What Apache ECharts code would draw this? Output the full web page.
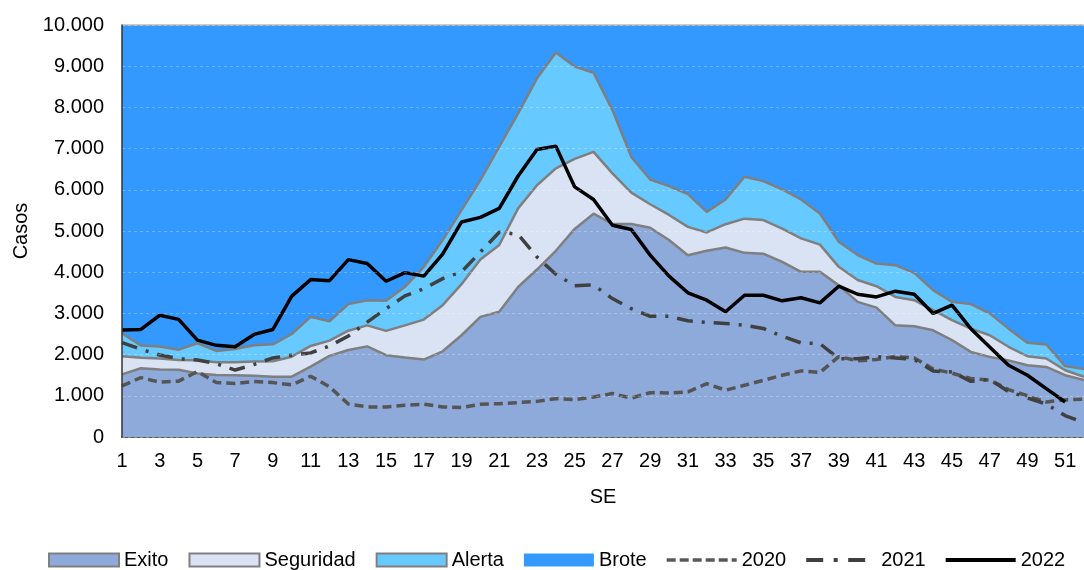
<!DOCTYPE html>
<html>
<head>
<meta charset="utf-8">
<script src="https://cdn.jsdelivr.net/npm/echarts@6/dist/echarts.min.js"></script>
<style>
  html, body { margin: 0; padding: 0; background: #fff; }
  #chart { width: 1084px; height: 570px; }
</style>
</head>
<body>
<div id="chart"></div>
<script>
// semanas epidemiologicas 1..52
const semanas = []
for (let i = 1; i <= 52; i++) semanas.push(String(i))

const yTicks = [0, 1000, 2000, 3000, 4000, 5000, 6000, 7000, 8000, 9000, 10000]

// limites superiores de cada zona del canal endemico
const exito = [1520, 1670, 1640, 1630, 1540, 1505, 1500, 1485, 1465, 1465, 1710, 1970, 2110,
  2200, 1985, 1930, 1880, 2080, 2470, 2915, 3040, 3640, 4065, 4520, 5050, 5420,
  5170, 5170, 5080, 4780, 4410, 4520, 4600, 4470, 4450, 4250, 4010, 4010, 3680,
  3280, 3140, 2710, 2690, 2590, 2350, 2065, 1945, 1860, 1740, 1700, 1500, 1380]
const seguridad = [1960, 1925, 1905, 1870, 1860, 1815, 1815, 1835, 1840, 1950, 2210, 2340, 2580,
  2710, 2575, 2710, 2850, 3200, 3710, 4310, 4660, 5550, 6110, 6520, 6750, 6920,
  6400, 5930, 5650, 5390, 5100, 4965, 5165, 5300, 5265, 5060, 4820, 4670, 4130,
  3810, 3660, 3400, 3320, 3080, 2835, 2630, 2470, 2190, 1960, 1905, 1620, 1460]
const alerta = [2520, 2220, 2195, 2120, 2275, 2090, 2135, 2227, 2250, 2500, 2915, 2810, 3225,
  3320, 3305, 3645, 4130, 4780, 5505, 6235, 7045, 7855, 8705, 9335, 8990, 8840,
  7935, 6800, 6250, 6090, 5895, 5465, 5765, 6315, 6210, 6010, 5765, 5425, 4740,
  4415, 4210, 4170, 3985, 3565, 3280, 3225, 3000, 2630, 2290, 2245, 1720, 1650]
const brote = semanas.map(() => 10000)

// casos por año
const casos2020 = [1240, 1442, 1330, 1355, 1590, 1320, 1300, 1345, 1320, 1265, 1475, 1220, 800,
  730, 730, 770, 795, 730, 715, 795, 810, 835, 865, 930, 905, 970,
  1055, 945, 1075, 1070, 1095, 1295, 1135, 1255, 1375, 1500, 1605, 1565, 1950,
  1850, 1880, 1950, 1920, 1650, 1550, 1420, 1380, 1150, 1000, 850, 900, 920]
const casos2021 = [2290, 2130, 1990, 1900, 1870, 1780, 1625, 1760, 1920, 1985, 2040, 2210, 2450,
  2790, 3115, 3425, 3600, 3845, 4010, 4490, 4970, 4920, 4370, 3950, 3670, 3690,
  3360, 3115, 2930, 2930, 2820, 2780, 2755, 2715, 2635, 2445, 2285, 2265, 1900,
  1900, 1950, 1920, 1880, 1600, 1580, 1350, 1400, 1100, 950, 800, 520, 350]
const casos2022 = [2600, 2610, 2955, 2855, 2350, 2225, 2190, 2490, 2610, 3420, 3820, 3795, 4305,
  4210, 3780, 3990, 3905, 4440, 5220, 5330, 5550, 6335, 6980, 7060, 6070, 5765,
  5140, 5035, 4415, 3905, 3500, 3320, 3040, 3440, 3440, 3305, 3380, 3255, 3660,
  3465, 3400, 3540, 3465, 3000, 3200, 2630, 2185, 1740, 1500, 1175, 850, null]

const FONT = 'Liberation Sans, Arial, sans-serif'
const BORDE = '#7f7f7f'

const fmt = v => String(v).replace(/\B(?=(\d{3})+(?!\d))/g, '.')

// icono de leyenda 70x13 hecho de segmentos [x0, x1] de una linea gruesa
const iconoLinea = (segs, h) => {
  const y0 = 6.5 - h / 2
  let p = 'path://M0,0 h0.01 v0.01 h-0.01 Z M70,13 h-0.01 v-0.01 h0.01 Z'
  segs.forEach(s => {
    p += ` M${s[0]},${y0} H${s[1]} V${y0 + h} H${s[0]} Z`
  })
  return p
}

const zona = (name, data, color, lineColor, lineWidth) => ({
  name, type: 'line', data, symbol: 'none',
  lineStyle: { color: lineColor, width: lineWidth },
  itemStyle: { color },
  areaStyle: { color, opacity: 1 }
})

const anio = (name, data, color, type, width) => ({
  name, type: 'line', data, symbol: 'none',
  lineStyle: { color, width, type },
  itemStyle: { color }
})

const myChart = echarts.init(document.getElementById('chart'))
myChart.setOption({
  animation: false,
  textStyle: { fontFamily: FONT, color: '#000' },
  grid: { left: 122, top: 25, right: -15, bottom: 133 },
  legend: {
    left: 48, top: 550, width: 1100, padding: 0,
    itemWidth: 70, itemHeight: 13, itemGap: 20,
    textStyle: { fontSize: 20, fontFamily: FONT, color: '#000' },
    data: [
      { name: 'Exito', icon: 'rect', itemStyle: { color: '#8eaadb', borderColor: BORDE, borderWidth: 2 } },
      { name: 'Seguridad', icon: 'rect', itemStyle: { color: '#dae3f3', borderColor: BORDE, borderWidth: 2 } },
      { name: 'Alerta', icon: 'rect', itemStyle: { color: '#66c9ff', borderColor: BORDE, borderWidth: 2 } },
      { name: 'Brote', icon: 'rect', itemStyle: { color: '#3399ff', borderWidth: 0 } },
      { name: '2020', icon: iconoLinea([[0, 9], [13, 22], [26, 35], [39, 48], [52, 61], [65, 70]], 3.5),
        itemStyle: { color: '#595959', borderWidth: 0 } },
      { name: '2021', icon: iconoLinea([[0, 17], [27.5, 31.5], [42, 59]], 4),
        itemStyle: { color: '#404040', borderWidth: 0 } },
      { name: '2022', icon: iconoLinea([[0, 70]], 4),
        itemStyle: { color: '#000000', borderWidth: 0 } }
    ]
  },
  xAxis: {
    type: 'category',
    data: semanas,
    boundaryGap: false,
    name: 'SE',
    nameLocation: 'middle',
    nameGap: 50,
    nameTextStyle: { fontSize: 20, fontFamily: FONT, color: '#000' },
    axisLine: { lineStyle: { color: '#595959', width: 2 } },
    axisTick: { show: false },
    axisLabel: { interval: 1, fontSize: 20, margin: 14, color: '#000', fontFamily: FONT },
    splitLine: { show: false }
  },
  yAxis: {
    type: 'value',
    min: yTicks[0],
    max: yTicks[yTicks.length - 1],
    interval: 1000,
    z: 5,
    name: 'Casos',
    nameLocation: 'middle',
    nameGap: 90,
    nameTextStyle: { fontSize: 20, fontFamily: FONT, color: '#000' },
    axisLine: { show: true, lineStyle: { color: '#333', width: 1.5 } },
    axisTick: { show: false },
    axisLabel: { fontSize: 20, margin: 18, color: '#000', fontFamily: FONT, formatter: fmt },
    splitLine: { show: true, lineStyle: { color: 'rgba(255,255,255,0.28)', type: [3, 3], width: 1 } }
  },
  series: [
    zona('Brote', brote, '#3399ff', '#a6a6a6', 1.5),
    zona('Alerta', alerta, '#66c9ff', BORDE, 2.5),
    zona('Seguridad', seguridad, '#dae3f3', BORDE, 2.5),
    zona('Exito', exito, '#8eaadb', BORDE, 2.5),
    anio('2020', casos2020, '#555555', [9, 5], 3.5),
    anio('2021', casos2021, '#404040', [16, 9, 3, 9], 3.5),
    anio('2022', casos2022, '#000000', 'solid', 3.5)
  ]
})
</script>
</body>
</html>
